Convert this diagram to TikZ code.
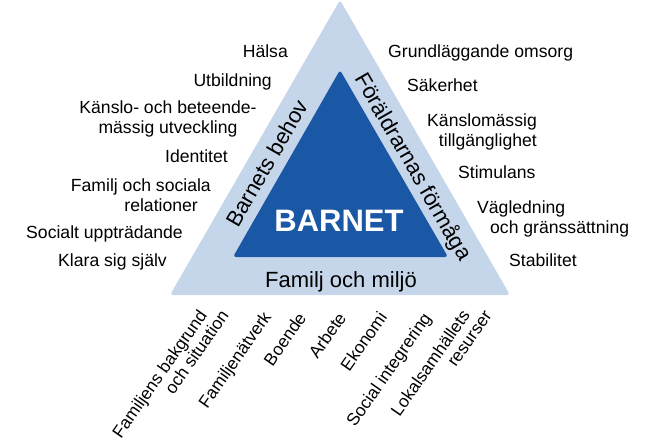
\documentclass[tikz,border=0pt]{standalone}
\usepackage{fontspec}
\setmainfont{Liberation Sans}
\definecolor{outerblue}{RGB}{198,214,234}
\definecolor{innerblue}{RGB}{26,88,166}

\begin{document}
\begin{tikzpicture}[x=1pt, y=-1pt,
                    item/.style={inner sep=0pt, font=\fontsize{17.6}{19.5}\selectfont},
                    side/.style={inner sep=0pt, font=\fontsize{22}{24}\selectfont},
                    bottom/.style={inner sep=0pt, font=\fontsize{17.3}{18}\selectfont, rotate=55, anchor=base east}]
    \useasboundingbox (0,0) rectangle (660,447);

    % Triangles:
    \fill[outerblue, rounded corners=3pt] (170,295) -- (510,295) -- (340,0) -- cycle;
    \fill[innerblue, rounded corners=3pt] (233,257) -- (448,257) -- (340,70) -- cycle;

    % Inside:
    \node[side, rotate=60] (behov) at (267,163) {Barnets behov};
    \node[side, rotate=-60] (formaga) at (413,167) {Föräldrarnas förmåga};
    \node[inner sep=0pt, text=white, font=\fontsize{31}{33}\selectfont\bfseries] (barnet) at (339,221) {BARNET};
    \node[side, anchor=base] (miljo) at (341,287) {Familj och miljö};

    % Left:
    \node[item, anchor=base east] (halsa) at (288,57) {Hälsa};
    \node[item, anchor=base east] (utbildning) at (272,86) {Utbildning};
    \node[item, align=center] (kanslo) at (168,119) {Känslo- och beteende-\\mässig utveckling};
    \node[item, anchor=base east] (identitet) at (228,162) {Identitet};
    \node[item, align=right, anchor=east] (familj) at (211,195) {Familj och sociala\\relationer\hspace*{13pt}};
    \node[item, anchor=base east] (socialt) at (183,238) {Socialt uppträdande};
    \node[item, anchor=base east] (klara) at (167,266) {Klara sig själv};

    % Right:
    \node[item, anchor=base west] (omsorg) at (388,57) {Grundläggande omsorg};
    \node[item, anchor=base west] (sakerhet) at (407,91) {Säkerhet};
    \node[item, align=right, anchor=east] (tillganglighet) at (537,132) {Känslomässig\\tillgänglighet};
    \node[item, anchor=base west] (stimulans) at (458,178) {Stimulans};
    \node[item, align=left, anchor=west] (vagledning) at (477,219) {Vägledning\\\hspace*{13pt}och gränssättning};
    \node[item, anchor=base west] (stabilitet) at (509,266) {Stabilitet};

    % Bottom:
    \node[bottom, align=right, anchor=east] (bakgrund) at (217,307) {Familjens bakgrund\hspace*{12pt}\\och situation};
    \node[bottom] (natverk) at (272,317) {Familjenätverk};
    \node[bottom] (boende) at (307,318) {Boende};
    \node[bottom] (arbete) at (347,318) {Arbete};
    \node[bottom] (ekonomi) at (388,317) {Ekonomi};
    \node[bottom] (integrering) at (432,318) {Social integrering};
    \node[bottom, align=right, anchor=east] (resurser) at (480,307) {Lokalsamhällets\hspace*{12pt}\\resurser};
\end{tikzpicture}
\end{document}
